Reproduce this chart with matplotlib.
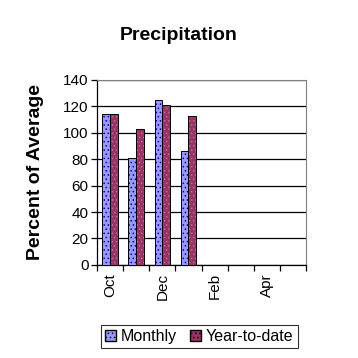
import matplotlib.pyplot as plt
import numpy as np
from matplotlib.patches import Patch

plt.rcParams['font.family'] = ['Liberation Sans', 'DejaVu Sans']
plt.rcParams['hatch.linewidth'] = 0.6

meses = ['Oct', 'Nov', 'Dec', 'Jan', 'Feb', 'Mar', 'Apr', 'May']
rotulos = ['Oct', '', 'Dec', '', 'Feb', '', 'Apr', '']
mensal = [114, 81, 125, 86]
acumulado = [114, 103, 121, 113]

fig = plt.figure(figsize=(3.58, 3.58), dpi=100)
ax = fig.add_axes([0.271, 0.26, 0.584, 0.517])

x = np.arange(len(mensal))
w = 0.3
ax.bar(x - w / 2, mensal, w, color='#9999ff', edgecolor='#0000cc', hatch='....', linewidth=0, zorder=3)
ax.bar(x - w / 2, mensal, w, color='none', edgecolor='black', linewidth=0.7, zorder=4)
ax.bar(x + w / 2, acumulado, w, color='#993366', edgecolor='#cc6699', hatch='....', linewidth=0, zorder=3)
ax.bar(x + w / 2, acumulado, w, color='none', edgecolor='black', linewidth=0.7, zorder=4)

ax.set_xlim(-0.5, len(meses) - 0.5)
ax.set_ylim(0, 140)
ax.set_yticks(range(0, 141, 20))
ax.yaxis.grid(True, color='black', linewidth=0.9)
ax.set_axisbelow(True)

ax.set_xticks(np.arange(len(meses)))
ax.set_xticklabels(rotulos, rotation=90, fontsize=11)
ax.set_xticks(np.arange(len(meses) + 1) - 0.5, minor=True)
ax.tick_params(axis='x', which='major', length=0, pad=6)
ax.tick_params(axis='x', which='minor', length=4, direction='out', width=0.9)
ax.tick_params(axis='y', length=4, direction='out', width=0.9, labelsize=11, pad=2)

for lado in ['top', 'right']:
    ax.spines[lado].set_color('#808080')
    ax.spines[lado].set_linewidth(0.8)
ax.spines['left'].set_linewidth(0.9)
ax.spines['bottom'].set_linewidth(0.9)

fig.suptitle('Precipitation', fontsize=14, fontweight='bold', x=0.5, y=0.925)
ax.set_ylabel('Percent of Average', fontsize=14, fontweight='bold', labelpad=14)

itens = [Patch(facecolor='#9999ff', edgecolor='black', hatch='....', label='Monthly'),
         Patch(facecolor='#993366', edgecolor='black', hatch='....', label='Year-to-date')]
leg = fig.legend(handles=itens, loc='center', bbox_to_anchor=(0.557, 0.06), ncol=2, fontsize=11.5,
                 frameon=True, fancybox=False, edgecolor='black', handlelength=0.7, handleheight=0.7,
                 handletextpad=0.3, columnspacing=0.8, borderpad=0.25)
leg.get_frame().set_linewidth(0.8)

plt.savefig('out.png', dpi=100)
